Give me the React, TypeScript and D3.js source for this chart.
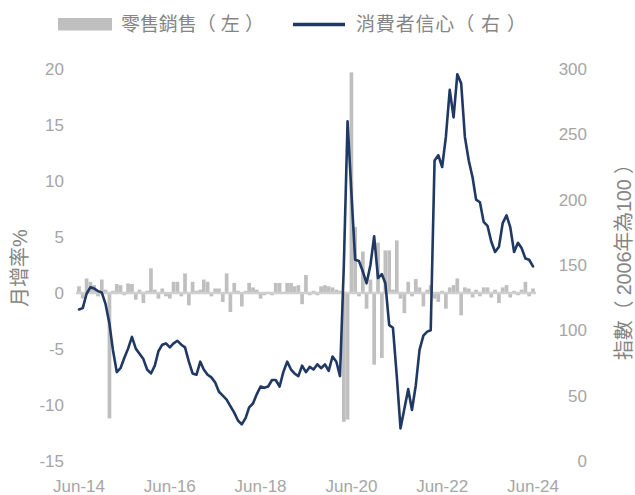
import React from "react";
import * as d3 from "d3";

const startYear = 2014;
const startMonth = 5; // June (0-based)

const retailSales = [
  0.6, -0.5, 1.3, 1.0, 0.7, -0.3, 1.2, 0.3, -11.2, 0.2,
  0.8, 0.7, -0.2, 0.85, 0.8, -0.6, 0.3, -0.9, 0.2, 2.2,
  0.3, -0.5, 0.4, -0.3, -0.5, 1.0, 1.0, -0.3, 1.75, -1.1,
  1.0, 0.2, 0.3, 1.2, 1.0, -0.3, 0.4, 0.4, -0.8, 1.75,
  -1.7, 0.9, 0.2, -1.2, 0.2, 0.9, 0.5, 0.3, -0.5, -0.2,
  0.1, -0.2, 0.9, 0.9, 0.1, 0.9, 0.9, 0.6, 0.7, -1.0,
  1.6, -0.2, 0.2, -0.2, 0.6, 0.7, 0.6, 0.5, 0.3, 0.2,
  -11.5, -11.3, 19.7, 5.9, -0.3, 3.7, -1.4, 1.2, -6.4, 4.5,
  -5.8, 3.8, 3.8, 0.3, 4.7, -0.5, -1.8, 1.0, -0.3, 1.25,
  0.5, -1.2, 0.3, 0.7, -0.5, -0.8, 0.2, -1.4, 0.5, 0.7,
  1.3, -2.0, 0.5, 0.4, -0.4, 0.3, -0.3, 0.5, 0.5, -0.4,
  0.3, -0.9, 0.5, 0.7, -0.4, 0.2, -0.2, 0.3, 1.0, -0.3,
  0.4,
];

const consumerConfidence = [
  116, 117, 128, 133, 132, 130, 129, 120, 105, 85,
  68, 71, 79, 86, 95, 86, 82, 78, 70, 67,
  73, 84, 89, 90, 87, 90, 92, 89, 87, 76,
  67, 66, 76, 70, 66, 64, 60, 53, 50, 47,
  42, 37, 31, 28, 33, 41, 44, 51, 57, 56,
  57, 62, 62, 57, 68, 76, 70, 67, 65, 73,
  68, 72, 70, 74, 71, 74, 69, 80, 76, 65,
  150, 260, 205, 154, 153, 145, 136, 150, 172, 140,
  143, 136, 104, 102, 65, 25, 40, 55, 39, 58,
  85, 96, 99, 100, 230, 234, 225, 248, 284, 263,
  296, 289, 248, 230, 217, 200, 198, 183, 180, 168,
  160, 164, 182, 188, 179, 160, 167, 163, 155, 154,
  149,
];

const leftTicks = [20, 15, 10, 5, 0, -5, -10, -15];
const rightTicks = [300, 250, 200, 150, 100, 50, 0];
const xTickYears = [2014, 2016, 2018, 2020, 2022, 2024];

const legendBar = "零售銷售（ 左 ）";
const legendLine = "消費者信心（ 右 ）";
const leftTitle = "月增率%";
const rightTitle = "指數（ 2006年為100 ）";

const months = retailSales.map((_, i) => new Date(startYear, startMonth + i, 1));

const W = 635;
const H = 495;
const FONT = "'Liberation Sans', 'Noto Sans CJK TC', Arial, sans-serif";
const TICK_COLOR = "#a6a6a6";
const TITLE_COLOR = "#858585";
const BAR_COLOR = "#bfbfbf";
const LINE_COLOR = "#1f3864";

export default function App() {
  const x = d3
    .scaleTime()
    .domain([new Date(2014, 5, 1), new Date(2024, 5, 1)])
    .range([79, 533]);
  const yL = d3.scaleLinear().domain([-15, 20]).range([461, 69]);
  const yR = d3.scaleLinear().domain([0, 300]).range([461, 69]);
  const barW = 3.7;

  const line = d3
    .line<number>()
    .x((_, i) => x(months[i]))
    .y((d) => yR(d))
    .curve(d3.curveLinear);

  const fmtTick = (y: number) => "Jun-" + String(y).slice(2);

  return (
    <svg
      width={W}
      height={H}
      style={{ position: "absolute", left: 0, top: 0, background: "#fff" }}
      fontFamily={FONT}
    >
      {/* Legend */}
      <rect x={58} y={18} width={54} height={12.5} fill={BAR_COLOR} />
      <text x={121} y={31} fontSize={19} fill={TITLE_COLOR} textLength={143} lengthAdjust="spacing">
        {legendBar}
      </text>
      <line x1={293} x2={345} y1={24.5} y2={24.5} stroke={LINE_COLOR} strokeWidth={3.5} />
      <text x={356} y={31} fontSize={19} fill={TITLE_COLOR} textLength={170} lengthAdjust="spacing">
        {legendLine}
      </text>

      {/* Left axis ticks */}
      {leftTicks.map((t) => (
        <text
          key={"l" + t}
          x={64}
          y={yL(t) + 6}
          fontSize={17}
          fill={TICK_COLOR}
          textAnchor="end"
        >
          {t}
        </text>
      ))}
      {/* Right axis ticks */}
      {rightTicks.map((t) => (
        <text
          key={"r" + t}
          x={587}
          y={yR(t) + 6}
          fontSize={17}
          fill={TICK_COLOR}
          textAnchor="end"
        >
          {t}
        </text>
      ))}
      {/* X ticks */}
      {xTickYears.map((yr) => (
        <text
          key={"x" + yr}
          x={x(new Date(yr, 5, 1))}
          y={492}
          fontSize={17}
          fill={TICK_COLOR}
          textAnchor="middle"
        >
          {fmtTick(yr)}
        </text>
      ))}

      {/* Axis titles */}
      <text
        transform={`translate(27,268) rotate(-90)`}
        fontSize={20}
        fill={TITLE_COLOR}
        textAnchor="middle"
      >
        {leftTitle}
      </text>
      <text
        transform={`translate(631,257) rotate(-90)`}
        fontSize={20}
        fill={TITLE_COLOR}
        textAnchor="middle"
        textLength={206}
        lengthAdjust="spacing"
      >
        {rightTitle}
      </text>

      {/* Bars */}
      {retailSales.map((v, i) => (
        <rect
          key={"b" + i}
          x={x(months[i]) - barW / 2}
          y={Math.min(yL(v), yL(0))}
          width={barW}
          height={Math.abs(yL(v) - yL(0))}
          fill={BAR_COLOR}
        />
      ))}
      {/* Zero line */}
      <line
        x1={x(months[0]) - 3}
        x2={x(months[months.length - 1]) + 3}
        y1={yL(0)}
        y2={yL(0)}
        stroke="#cfcfcf"
        strokeWidth={2.5}
      />

      {/* Line */}
      <path
        d={line(consumerConfidence) || ""}
        fill="none"
        stroke={LINE_COLOR}
        strokeWidth={2.6}
        strokeLinejoin="round"
        strokeLinecap="round"
      />
    </svg>
  );
}
